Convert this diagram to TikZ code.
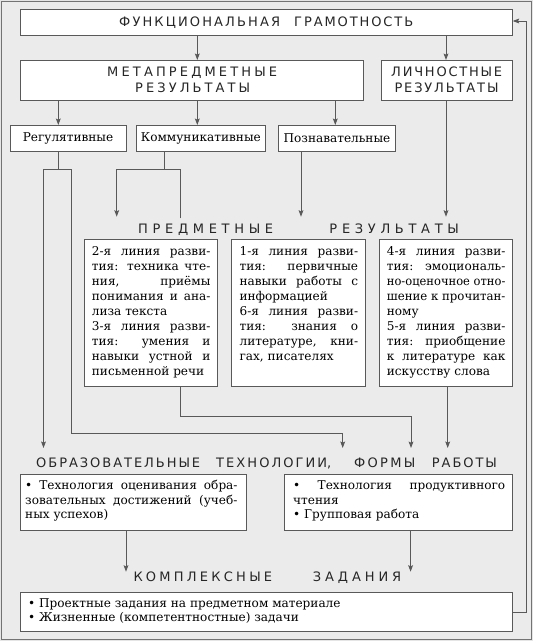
\documentclass[tikz,border=0pt]{standalone}
\usepackage{fontspec}
\usepackage{graphicx}
\usetikzlibrary{arrows.meta}
\newfontfamily\bodyfont{DejaVu Serif}
\newfontfamily\headfont{DejaVu Sans}
\newdimen\calsum
\newlength\calw
\newsavebox\jlbox
\newcommand\calmeasure[1]{\settowidth\calw{\bodyfont\fontsize{10pt}{12pt}\selectfont #1}\global\advance\calsum\calw}
\AtBeginDocument{%
  \global\calsum=0pt
  \calmeasure{письменной речи}\calmeasure{лиза текста}\calmeasure{искусству слова}\calmeasure{гах, писателях}\calmeasure{информацией}%
  \pgfmathparse{10*473.4/\calsum}\global\let\bfs\pgfmathresult}
\def\spwEnd{spw-end-marker}
\newcommand\spw[2]{\hbox to #1{\spwA#2\spwEnd\hskip 0pt plus -1fil}}
\def\spwA#1{\ifx#1\spwEnd\else#1\hfil\expandafter\spwA\fi}
\newcommand\jln[1]{\sbox\jlbox{#1}\ifdim\wd\jlbox>\hsize\hbox{\resizebox{\hsize}{\height}{\usebox\jlbox}}\else\hbox to\hsize{#1}\fi}
\newcommand\lln[1]{\hbox{#1}}
\newcommand\tbx[3]{\vtop{\hsize=#1\baselineskip=#2\lineskiplimit=-\maxdimen\hbadness=10000 #3}}
\begin{document}
\begin{tikzpicture}[x=1pt,y=-1pt,
  bxs/.style={draw=black!65, line width=0.9pt, fill=white, inner sep=0pt, outer sep=0pt, anchor=north west},
  arr/.style={draw=black!65, line width=0.9pt, -{Stealth[length=6.5pt,width=4.8pt,inset=1.2pt]}},
  ln/.style={draw=black!65, line width=0.9pt},
  hd/.style={font=\headfont\fontsize{13pt}{15pt}\selectfont, text=black!85, inner sep=0pt, anchor=base west},
  sbt/.style={font=\bodyfont\fontsize{\bfs pt}{15pt}\selectfont, text=black},
  bt/.style={sbt, inner sep=0pt, anchor=base west},
]
\useasboundingbox (0,0) rectangle (533,641);
% background and frame
\fill[black!10] (0,0) rectangle (533,641);
\draw[black!55, line width=0.8pt, fill=black!8] (1.5,1.2) rectangle (531.3,639.6);
% boxes
\node[bxs, minimum width=492.7pt, minimum height=26.4pt] (top) at (20,9.3) {};
\node[bxs, minimum width=343.3pt, minimum height=40.7pt] (meta) at (20,60) {};
\node[bxs, minimum width=131.5pt, minimum height=40.7pt] (lich) at (381,60) {};
\node[bxs, sbt, minimum width=116pt, minimum height=26pt] (reg) at (10,125) {Регулятивные};
\node[bxs, sbt, minimum width=128.3pt, minimum height=26pt] (komm) at (136.7,125) {Коммуникативные};
\node[bxs, sbt, minimum width=116.6pt, minimum height=26pt] (pozn) at (278.7,125) {Познавательные};
\node[bxs, minimum width=133.5pt, minimum height=147pt] (b1) at (84,239) {};
\node[bxs, minimum width=133.6pt, minimum height=147pt] (b2) at (231.7,239) {};
\node[bxs, minimum width=133.4pt, minimum height=147pt] (b3) at (379.3,239) {};
\node[bxs, minimum width=226.7pt, minimum height=56.4pt] (t1) at (20,474.3) {};
\node[bxs, minimum width=227.7pt, minimum height=56.4pt] (t2) at (284.8,474.3) {};
\node[bxs, minimum width=492.5pt, minimum height=39pt] (kz) at (20,592.7) {};
% headings
\node[hd] (topT) at (119,26) {\spw{161pt}{ФУНКЦИОНАЛЬНАЯ}\hskip14pt\spw{119pt}{ГРАМОТНОСТЬ}};
\node[hd] (metaT1) at (107,76.8) {\spw{170pt}{МЕТАПРЕДМЕТНЫЕ}};
\node[hd] (metaT2) at (135,92) {\spw{115pt}{РЕЗУЛЬТАТЫ}};
\node[hd] (lichT1) at (391,76.8) {\spw{111pt}{ЛИЧНОСТНЫЕ}};
\node[hd] (lichT2) at (394.3,92) {\spw{104pt}{РЕЗУЛЬТАТЫ}};
\node[hd] (pred) at (138,233.3) {\spw{135pt}{ПРЕДМЕТНЫЕ}\hskip56.3pt\spw{129.4pt}{РЕЗУЛЬТАТЫ}};
\node[hd] (obr) at (36,467) {\spw{164pt}{ОБРАЗОВАТЕЛЬНЫЕ}\hskip16pt\spw{111pt}{ТЕХНОЛОГИИ},\hskip22.9pt\spw{61pt}{ФОРМЫ}\hskip16.7pt\spw{65pt}{РАБОТЫ}};
\node[hd] (kompl) at (133.3,581.7) {\spw{138.7pt}{КОМПЛЕКСНЫЕ}\hskip40.7pt\spw{88.3pt}{ЗАДАНИЯ}};
% box texts
\node[bt] (b1T) at (91.7,255) {\tbx{118.5pt}{15pt}{\jln{2-я линия разви-}\jln{тия: техника чте-}\jln{ния, приёмы}\jln{понимания и ана-}\lln{лиза текста}\jln{3-я линия разви-}\jln{тия: умения и}\jln{навыки устной и}\lln{письменной речи}}};
\node[bt] (b2T) at (239.4,255) {\tbx{118.5pt}{15pt}{\jln{1-я линия разви-}\jln{тия: первичные}\jln{навыки работы с}\lln{информацией}\jln{6-я линия разви-}\jln{тия: знания о}\jln{литературе, кни-}\lln{гах, писателях}}};
\node[bt] (b3T) at (386.7,255) {\tbx{118.5pt}{15pt}{\jln{4-я линия разви-}\jln{тия: эмоциональ-}\jln{но-оценочное отно-}\jln{шение к прочитан-}\lln{ному}\jln{5-я линия разви-}\jln{тия: приобщение}\jln{к литературе как}\lln{искусству слова}}};
\node[bt] (t1T) at (25,489.5) {\tbx{212.3pt}{14.65pt}{\jln{• Технология оценивания обра-}\jln{зовательных достижений (учеб-}\lln{ных успехов)}}};
\node[bt] (t2T) at (293,489.5) {\tbx{212pt}{14.65pt}{\jln{• Технология продуктивного}\lln{чтения}\lln{• Групповая работа}}};
\node[bt] (kzT) at (28,607.2) {\tbx{470pt}{14.4pt}{\lln{• Проектные задания на предметном материале}\lln{• Жизненные (компетентностные) задачи}}};
% coordinates for connectors
\coordinate (xA) at (197.3,0);
\coordinate (xB) at (446,0);
\coordinate (xR) at (58.3,0);
\coordinate (xP) at (335.3,0);
\coordinate (xK) at (164.3,0);
\coordinate (xPo) at (301,0);
\coordinate (xRl) at (43.5,0);
\coordinate (xRr) at (71,0);
\coordinate (xKl) at (116.7,0);
\coordinate (xKr) at (180,0);
\coordinate (xTa) at (342.7,0);
\coordinate (xTb) at (411,0);
\coordinate (xB3) at (447.7,0);
\coordinate (xT1) at (126,0);
\coordinate (xT2) at (410.6,0);
\coordinate (xRt) at (526,0);
\coordinate (yJ) at (0,169);
\coordinate (yPr) at (0,216.7);
\coordinate (yPe) at (0,218.3);
\coordinate (yRh) at (0,433.3);
\coordinate (yB) at (0,416);
\coordinate (yObr) at (0,448);
\coordinate (yKz) at (0,571.7);
\coordinate (yTop) at (0,21);
% connectors
\draw[arr] (xA |- top.south) -- (xA |- meta.north);
\draw[arr] (xB |- top.south) -- (xB |- lich.north);
\draw[arr] (xR |- meta.south) -- (xR |- reg.north);
\draw[arr] (xA |- meta.south) -- (xA |- komm.north);
\draw[arr] (xP |- meta.south) -- (xP |- pozn.north);
\draw[ln] (xR |- reg.south) -- (xR |- yJ);
\draw[arr] (xRr |- yJ) -- (xRl |- yJ) -- (xRl |- yObr);
\draw[arr] (xRr |- yJ) -- (xRr |- yRh) -- (xTa |- yRh) -- (xTa |- yObr);
\draw[ln] (xK |- komm.south) -- (xK |- yJ);
\draw[arr] (xKr |- yPe) -- (xKr |- yJ) -- (xKl |- yJ) -- (xKl |- yPr);
\draw[arr] (xPo |- pozn.south) -- (xPo |- yPr);
\draw[arr] (xB |- lich.south) -- (xB |- yPr);
\draw[arr] (xKr |- b1.south) -- (xKr |- yB) -- (xTb |- yB) -- (xTb |- yObr);
\draw[arr] (xB3 |- b3.south) -- (xB3 |- yObr);
\draw[arr] (xT1 |- t1.south) -- (xT1 |- yKz);
\draw[arr] (xT2 |- t2.south) -- (xT2 |- yKz);
\draw[arr] (kz.east) -- (xRt |- kz.east) -- (xRt |- yTop) -- (top.east |- yTop);
\end{tikzpicture}
\end{document}
